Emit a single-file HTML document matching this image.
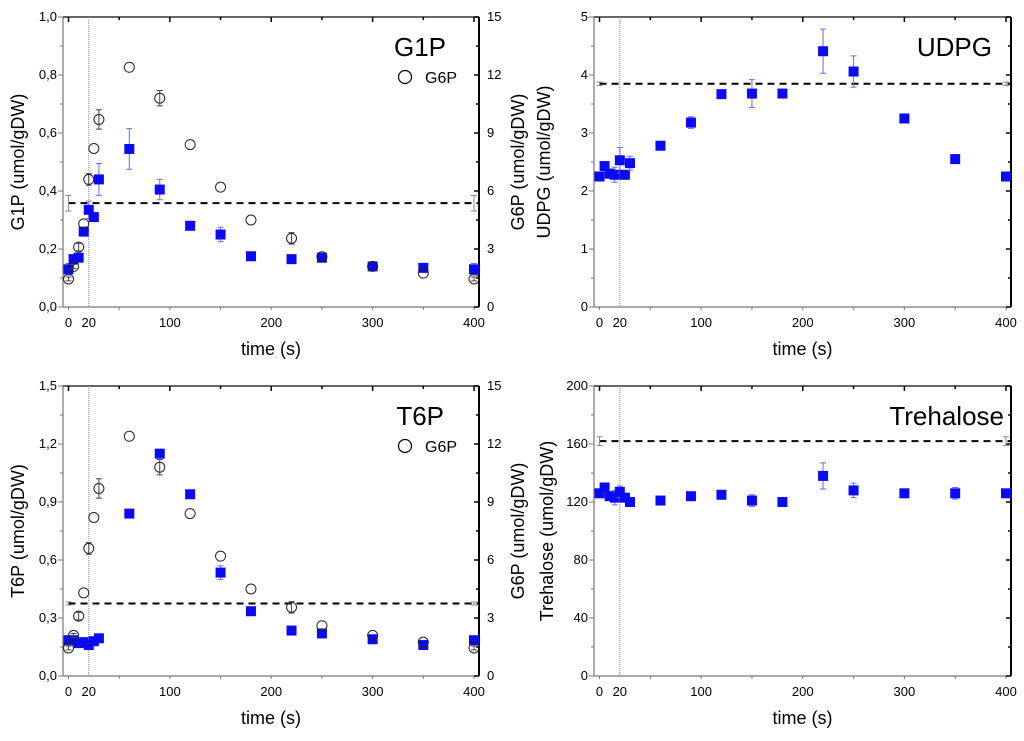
<!DOCTYPE html>
<html><head><meta charset="utf-8"><style>
body{margin:0;background:#fff;width:1024px;height:736px;overflow:hidden}
svg text{font-family:"Liberation Sans",Arial,sans-serif}
</style></head><body>
<svg id="chart" width="1024" height="736" xmlns="http://www.w3.org/2000/svg"></svg>
<script>
const times=[0,5,10,15,20,25,30,60,90,120,150,180,220,250,300,350,400];
const g1p=[0.13,0.165,0.17,0.26,0.335,0.31,0.44,0.545,0.405,0.28,0.25,0.175,0.165,0.17,0.14,0.135,0.13];
const g1pErr=[0.02,0,0,0,0.03,0,0.055,0.07,0.035,0,0.025,0,0,0,0,0,0.02];
const g6p=[1.45,2.1,3.1,4.3,6.6,8.2,9.7,12.4,10.8,8.4,6.2,4.5,3.55,2.6,2.1,1.75,1.45];
const g6pErr=[0.1,0.1,0.2,0,0.3,0,0.5,0,0.4,0,0,0,0.3,0,0,0,0.1];
const t6p=[0.185,0.185,0.17,0.175,0.16,0.18,0.195,0.84,1.15,0.94,0.535,0.335,0.235,0.22,0.19,0.16,0.185];
const t6pErr=[0,0,0,0,0,0,0,0,0,0,0.035,0,0,0,0,0,0];
const udpg=[2.25,2.43,2.3,2.28,2.53,2.28,2.48,2.78,3.18,3.67,3.68,3.68,4.41,4.06,3.25,2.55,2.25];
const udpgErr=[0,0.05,0.08,0.13,0.22,0,0.12,0,0.1,0,0.24,0,0.38,0.27,0,0,0];
const treh=[126,130,124,123,127,123,120,121,124,125,121,120,138,128,126,126,126];
const trehErr=[0,0,0,5,4,0,0,0,0,0,4,0,9,5,0,4,0];
const xTicks=[0,20,100,200,300,400];
const g1pTicks=[0,0.2,0.4,0.6,0.8,1.0];
const t6pTicks=[0,0.3,0.6,0.9,1.2,1.5];
const udpgTicks=[0,1,2,3,4,5];
const trehTicks=[0,40,80,120,160,200];
const g6pTicks=[0,3,6,9,12,15];
const levels={g1p:0.358,t6p:0.375,udpg:3.85,treh:162};
const levelErr={g1p:0.027,t6p:0.008,udpg:0.03,treh:3};

const NS='http://www.w3.org/2000/svg';
const svg=document.getElementById('chart');
function mk(tag,attrs,parent,txt){const e=document.createElementNS(NS,tag);for(const k in attrs)e.setAttribute(k,attrs[k]);if(txt!==undefined)e.textContent=txt;(parent||svg).appendChild(e);return e;}
function fmt(v,dec){return dec?v.toFixed(dec).replace('.',','):String(v);}

function panel(o){
  const g=mk('g',{});
  
  
  const L=o.L,R=o.R,T=o.T,B=o.B;
  const x0=L+5.5,x1=R-5;
  const X=t=>x0+(x1-x0)*t/400;
  const Y=v=>B-(B-T)*v/o.ymax;
  const Y2=v=>B-(B-T)*v/15;
  mk('line',{x1:L,y1:T,x2:L,y2:B,stroke:'#777','stroke-width':1.2},g);
  mk('line',{x1:L,y1:B,x2:R,y2:B,stroke:'#777','stroke-width':1.2},g);
  mk('line',{x1:L,y1:T,x2:R,y2:T,stroke:'#333','stroke-width':1.5},g);
  mk('line',{x1:R,y1:T,x2:R,y2:B,stroke:'#000','stroke-width':2},g);
  for(let t=0;t<=400;t+=50){mk('line',{x1:X(t),y1:B,x2:X(t),y2:B+3,stroke:'#777'},g);mk('line',{x1:X(t),y1:T,x2:X(t),y2:T+(t%100==0?5:3),stroke:'#000','stroke-width':1.5},g);}
  xTicks.forEach(t=>{const e=mk('text',{x:X(t),y:B+20,'font-size':13,'text-anchor':'middle',fill:'#000'},g,String(t));});
  const xt=mk('text',{x:(L+R)/2,y:B+48,'font-size':18,'text-anchor':'middle'},g,'time (s)');
  
  const n=o.ticks.length-1;
  for(let i=0;i<=2*n;i++){const v=o.ymax*i/(2*n);mk('line',{x1:L-(i%2?3:5),y1:Y(v),x2:L,y2:Y(v),stroke:'#777'},g);mk('line',{x1:R-(i%2?3:5),y1:Y(v),x2:R,y2:Y(v),stroke:'#000','stroke-width':1.5},g);}
  o.ticks.forEach(v=>{const e=mk('text',{x:L-6,y:Y(v)+4,'font-size':13,'text-anchor':'end'},g,fmt(v,o.dec));});
  if(o.g6p){g6pTicks.forEach(v=>{const e=mk('text',{x:R+8,y:Y2(v)+4,'font-size':13},g,String(v));});}
  const yt=mk('text',{transform:`translate(${o.ytx},${(T+B)/2}) rotate(-90)`,'font-size':18,'text-anchor':'middle'},g,o.ytitle);
  
  mk('line',{x1:X(20),y1:T,x2:X(20),y2:B,stroke:'#888','stroke-width':1,'stroke-dasharray':'1,1'},g);
  const dl=mk('line',{x1:X(0),y1:Y(o.level),x2:R,y2:Y(o.level),stroke:'#000','stroke-width':2,'stroke-dasharray':'7,5'},g);
  
  [0,400].forEach(t=>{const e=o.levelErr;mk('path',{d:`M${X(t)-3} ${Y(o.level+e)}h6M${X(t)} ${Y(o.level+e)}V${Y(o.level-e)}M${X(t)-3} ${Y(o.level-e)}h6`,stroke:'#888',fill:'none'},g);});
  const tt=mk('text',{x:o.titleX,y:T+39,'font-size':26,'text-anchor':'end'},g,o.title);
  
  times.forEach((t,i)=>{
    const v=o.data[i],er=o.err[i];
    if(er>0)mk('path',{d:`M${X(t)-3} ${Y(v+er)}h6M${X(t)} ${Y(v+er)}V${Y(v-er)}M${X(t)-3} ${Y(v-er)}h6`,stroke:'#6a6af0',fill:'none'},g);
    const r=mk('rect',{x:X(t)-5,y:Y(v)-5,width:10,height:10,fill:'#0a0af5'},g);
    
  });
  if(o.g6p){
    times.forEach((t,i)=>{
      const v=g6p[i],er=g6pErr[i];
      if(er>0)mk('path',{d:`M${X(t)-3} ${Y2(v+er)}h6M${X(t)} ${Y2(v+er)}V${Y2(v-er)}M${X(t)-3} ${Y2(v-er)}h6`,stroke:'#444',fill:'none'},g);
      const c=mk('circle',{cx:X(t),cy:Y2(v),r:5,fill:'none',stroke:'#222','stroke-width':1},g);
      
    });
    const lg=mk('g',{},g);
    
    mk('circle',{cx:L+342,cy:T+60,r:6.5,fill:'none',stroke:'#000','stroke-width':1.2},lg);
    mk('text',{x:L+362,y:T+66,'font-size':16},lg,'G6P');
  }
}
panel({name:'g1p-panel',L:63,R:479,T:17,B:307,ymax:1,ticks:g1pTicks,dec:1,data:g1p,err:g1pErr,level:levels.g1p,levelErr:levelErr.g1p,title:'G1P',titleX:446,ytitle:'G1P (umol/gDW)',ytx:24,g6p:true});
panel({name:'t6p-panel',L:63,R:479,T:386,B:676,ymax:1.5,ticks:t6pTicks,dec:1,data:t6p,err:t6pErr,level:levels.t6p,levelErr:levelErr.t6p,title:'T6P',titleX:444,ytitle:'T6P (umol/gDW)',ytx:24,g6p:true});
panel({name:'udpg-panel',L:594,R:1011,T:17,B:307,ymax:5,ticks:udpgTicks,dec:0,data:udpg,err:udpgErr,level:levels.udpg,levelErr:levelErr.udpg,title:'UDPG',titleX:992,ytitle:'UDPG (umol/gDW)',ytx:550,g6p:false});
panel({name:'trehalose-panel',L:594,R:1011,T:386,B:676,ymax:200,ticks:trehTicks,dec:0,data:treh,err:trehErr,level:levels.treh,levelErr:levelErr.treh,title:'Trehalose',titleX:1004,ytitle:'Trehalose (umol/gDW)',ytx:553,g6p:false});
[[162],[531]].forEach(([cy])=>{const e=mk('text',{transform:`translate(524,${cy}) rotate(-90)`,'font-size':18,'text-anchor':'middle'},svg,'G6P (umol/gDW)');});
</script>
</body></html>
